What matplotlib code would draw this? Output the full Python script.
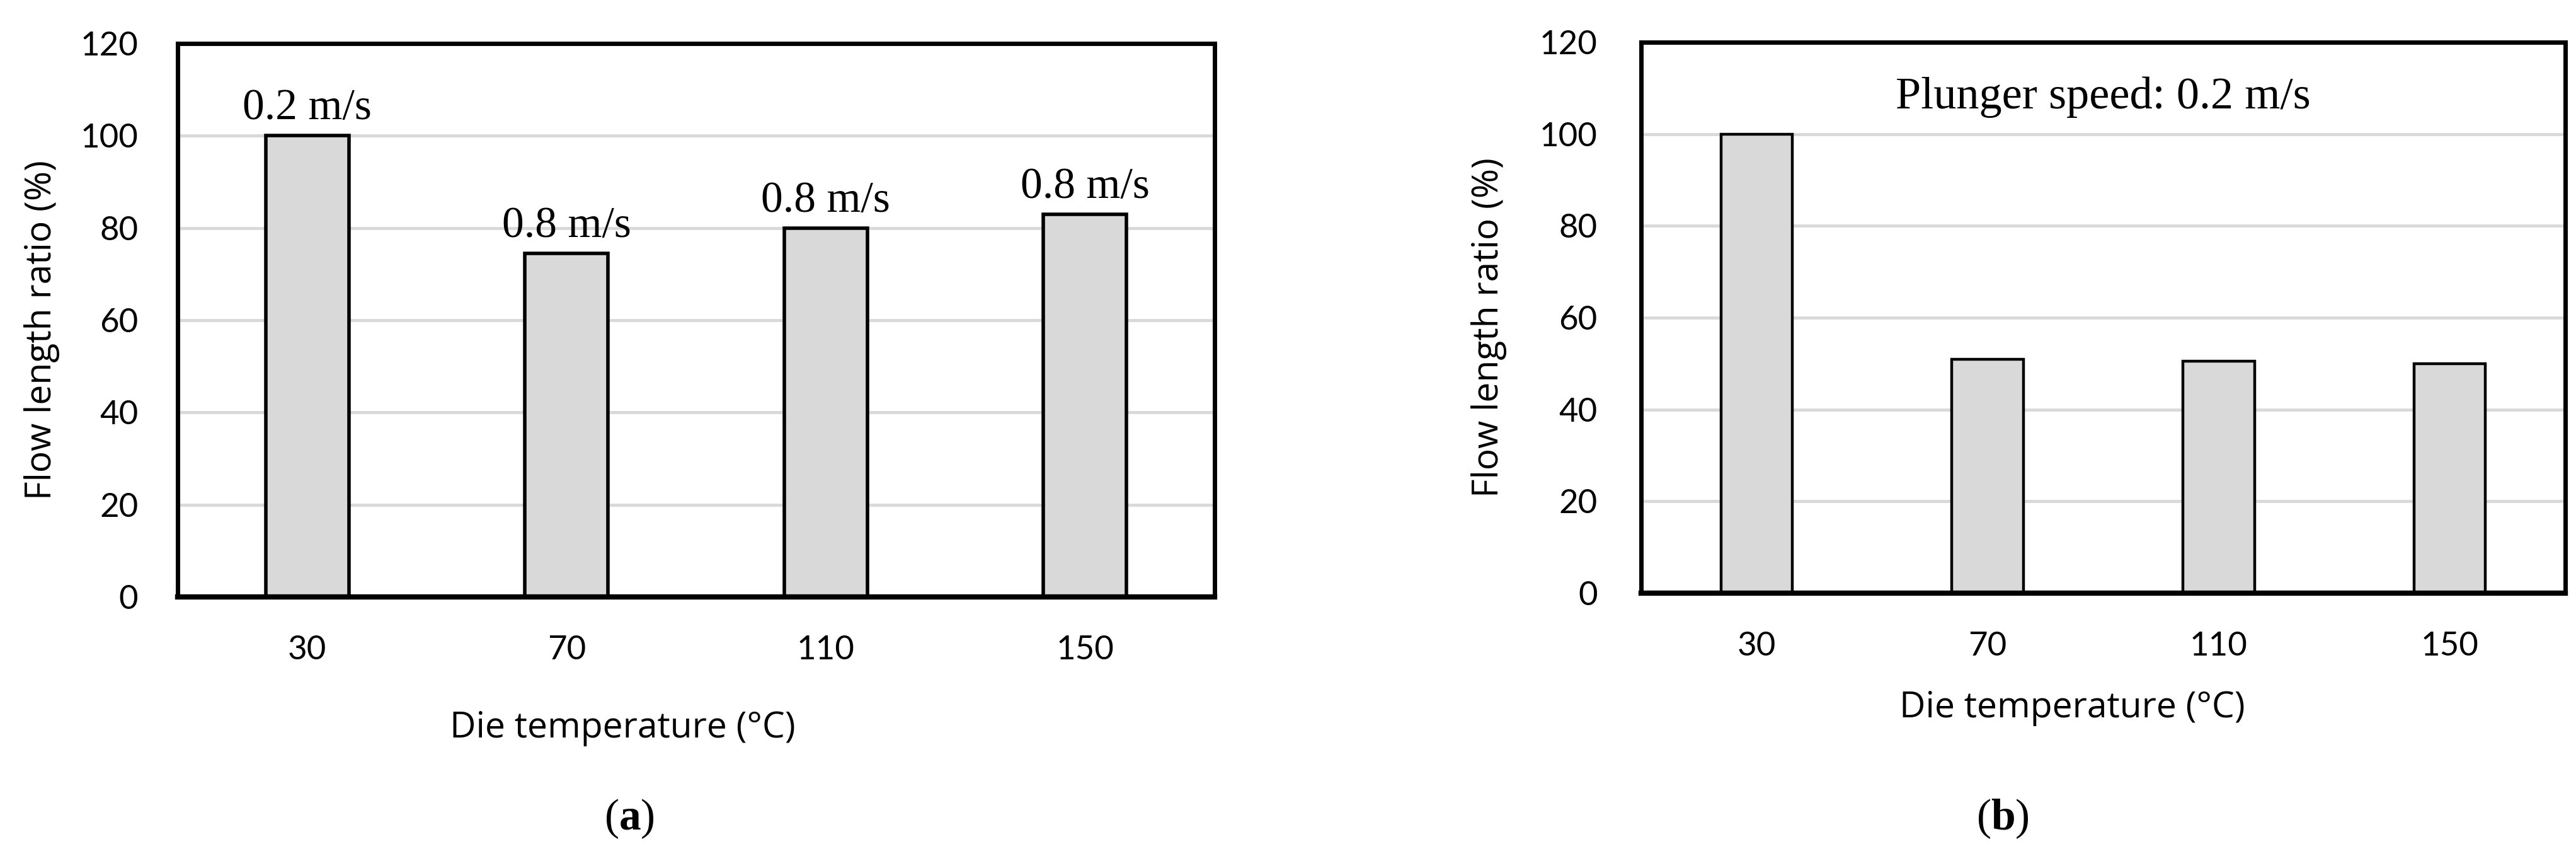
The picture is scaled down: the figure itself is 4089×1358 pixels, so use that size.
import matplotlib.pyplot as plt
import numpy as np

temps = ['30', '70', '110', '150']
ratio_a = [100, 74.5, 80, 83]
labels_a = ['0.2 m/s', '0.8 m/s', '0.8 m/s', '0.8 m/s']
ratio_b = [100, 51, 50.5, 50]

W, H = 4089, 1358
fig = plt.figure(figsize=(W / 100, H / 100), dpi=100)

plt.rcParams['mathtext.fontset'] = 'custom'
plt.rcParams['mathtext.rm'] = 'Liberation Serif'
plt.rcParams['mathtext.bf'] = 'Liberation Serif:bold'


def box(x0, x1, y0, y1):
    # pixel box -> figure fraction
    return [x0 / W, 1 - y1 / H, (x1 - x0) / W, (y1 - y0) / H]


def style_axes(ax, vals, width, edge_lw, pad_y):
    x = np.arange(len(temps))
    ax.bar(x, vals, width=width, color='#d9d9d9', edgecolor='black',
           linewidth=edge_lw, zorder=3)
    ax.set_xlim(-0.5, len(temps) - 0.5)
    ax.set_ylim(0, 120)
    ax.set_yticks(range(0, 121, 20))
    ax.set_xticks(x)
    ax.set_xticklabels(temps)
    ax.grid(axis='y', color='#d9d9d9', linewidth=3.5, zorder=0)
    ax.tick_params(length=0, labelsize=38)
    ax.tick_params(axis='y', pad=pad_y)
    ax.tick_params(axis='x', pad=44)
    for lab in ax.get_xticklabels() + ax.get_yticklabels():
        lab.set_fontfamily('Lato')
    for s in ax.spines.values():
        s.set_linewidth(5)
        s.set_zorder(5)
    ax.spines['bottom'].set_linewidth(6)
    return x


# (a)
ax1 = fig.add_axes(box(282, 1928, 69, 947))
x = style_axes(ax1, ratio_a, 0.32, 4, 45)
for xi, v, t in zip(x, ratio_a, labels_a):
    ax1.text(xi, v + 1.5, t, ha='center', va='bottom', fontsize=50,
             family='Liberation Serif', zorder=6)

# (b)
ax2 = fig.add_axes(box(2605, 4072, 67, 941))
style_axes(ax2, ratio_b, 0.31, 3.2, 50)
ax2.text(0.5, 108, 'Plunger speed: 0.2 m/s', transform=ax2.get_yaxis_transform(),
         ha='center', va='center', fontsize=52, family='Liberation Serif')

# axis labels and panel captions
lab_kw = dict(ha='center', va='center', fontsize=41, family='Open Sans')
fig.text(67 / W, 1 - 524 / H, 'Flow length ratio (%)', rotation=90, **lab_kw)
fig.text(2363 / W, 1 - 520 / H, 'Flow length ratio (%)', rotation=90, **lab_kw)
fig.text(988 / W, 1 - 1156 / H, 'Die temperature (°C)', **lab_kw)
fig.text(3289 / W, 1 - 1124 / H, 'Die temperature (°C)', **lab_kw)
fig.text(999 / W, 1 - 1299 / H, r'($\mathbf{a}$)', ha='center', va='center',
         fontsize=50, family='Liberation Serif')
fig.text(3179 / W, 1 - 1299 / H, r'($\mathbf{b}$)', ha='center', va='center',
         fontsize=50, family='Liberation Serif')

plt.savefig('out.png', dpi=100)
